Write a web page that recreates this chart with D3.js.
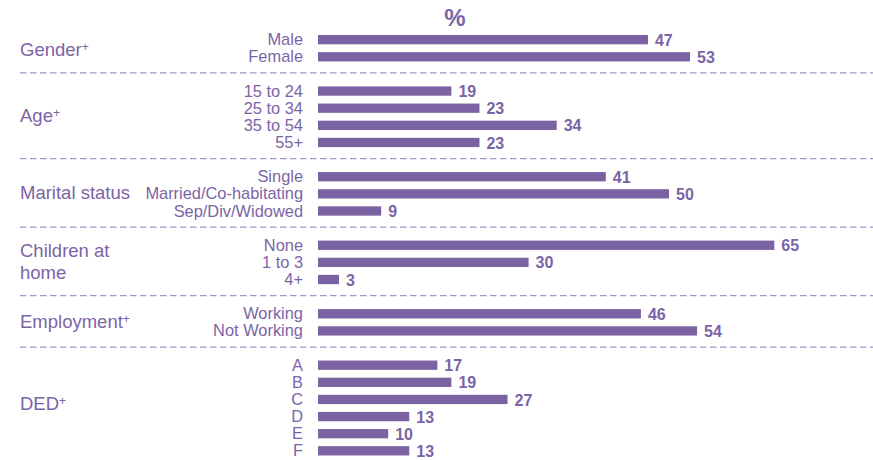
<!DOCTYPE html>
<html>
<head>
<meta charset="utf-8">
<script src="https://cdn.jsdelivr.net/npm/d3@7"></script>
<style>
  html, body { margin: 0; padding: 0; background: #ffffff; }
  svg { display: block; font-family: "Liberation Sans", Arial, sans-serif; }
</style>
</head>
<body>
<svg id="chart" width="873" height="460"></svg>
<script>
// Profile breakdown, values in %
const genderLabels = ["Male", "Female"];
const genderValues = [47, 53];

const ageLabels = ["15 to 24", "25 to 34", "35 to 54", "55+"];
const ageValues = [19, 23, 34, 23];

const maritalLabels = ["Single", "Married/Co-habitating", "Sep/Div/Widowed"];
const maritalValues = [41, 50, 9];

const childrenLabels = ["None", "1 to 3", "4+"];
const childrenValues = [65, 30, 3];

const employmentLabels = ["Working", "Not Working"];
const employmentValues = [46, 54];

const dedLabels = ["A", "B", "C", "D", "E", "F"];
const dedValues = [17, 19, 27, 13, 10, 13];

const groupNames = [["Gender"], ["Age"], ["Marital status"], ["Children at", "home"], ["Employment"], ["DED"]];
const groupPlus = [true, true, false, false, true, true];

const groupRows = [
  [genderLabels, genderValues],
  [ageLabels, ageValues],
  [maritalLabels, maritalValues],
  [childrenLabels, childrenValues],
  [employmentLabels, employmentValues],
  [dedLabels, dedValues]
];

// Flatten into one row list, with a blank spacer row between groups
const rows = [];
groupRows.forEach(([labels, values], g) => {
  if (g > 0) rows.push({ key: "sep" + g, sep: true, group: g });
  labels.forEach((l, i) => rows.push({ key: g + "-" + l, label: l, value: values[i], group: g }));
});

const W = 873, H = 460;
const barColor = "#7b62a2";
const textColor = "#7b64a6";
const ruleColor = "#a892c9";

const svg = d3.select("#chart");

const y = d3.scaleBand()
  .domain(rows.map(r => r.key))
  .range([31.1, 459.4])
  .paddingInner(0.457)
  .paddingOuter(0.2285);

const x = d3.scaleLinear().domain([0, 100]).range([318, 1020]);

const yc = k => y(k) + y.bandwidth() / 2;

// header
svg.append("text")
  .attr("x", 455).attr("y", 26)
  .attr("text-anchor", "middle")
  .attr("font-size", 24).attr("font-weight", "bold")
  .attr("fill", textColor)
  .text("%");

// dashed separators
const seps = rows.filter(r => r.sep);
const sepY = seps.map(r => yc(r.key) - 1);
svg.selectAll("line.sep")
  .data(sepY)
  .join("line")
  .attr("class", "sep")
  .attr("x1", 20).attr("x2", W)
  .attr("y1", d => d).attr("y2", d => d)
  .attr("stroke", ruleColor)
  .attr("stroke-width", 1.3)
  .attr("stroke-dasharray", "6.5,3.5");

const data = rows.filter(r => !r.sep);

// bars
svg.selectAll("rect.bar")
  .data(data)
  .join("rect")
  .attr("class", "bar")
  .attr("x", x(0))
  .attr("y", r => y(r.key))
  .attr("width", r => x(r.value) - x(0))
  .attr("height", y.bandwidth())
  .attr("fill", barColor);

// category labels
svg.selectAll("text.cat")
  .data(data)
  .join("text")
  .attr("class", "cat")
  .attr("x", 303)
  .attr("y", r => yc(r.key))
  .attr("dy", "0.34em")
  .attr("text-anchor", "end")
  .attr("font-size", 16.4)
  .attr("fill", textColor)
  .text(r => r.label);

// value labels
svg.selectAll("text.val")
  .data(data)
  .join("text")
  .attr("class", "val")
  .attr("x", r => x(r.value) + 7)
  .attr("y", r => yc(r.key))
  .attr("dy", "0.38em")
  .attr("font-size", 16)
  .attr("font-weight", "bold")
  .attr("fill", textColor)
  .text(r => r.value);

// group labels, centred in the band between their separators
const edges = [26, ...sepY, H];
groupNames.forEach((lines, g) => {
  const mid = (edges[g] + edges[g + 1]) / 2;
  const lh = 22.6;
  const t = svg.append("text")
    .attr("x", 20)
    .attr("font-size", 18.5)
    .attr("fill", textColor);
  lines.forEach((ln, i) => {
    t.append("tspan")
      .attr("x", 20)
      .attr("y", mid + (i - (lines.length - 1) / 2) * lh)
      .attr("dy", "0.35em")
      .text(ln);
  });
  if (groupPlus[g]) {
    t.append("tspan")
      .attr("font-size", 12)
      .attr("dy", -5)
      .text("+");
  }
});
</script>
</body>
</html>
